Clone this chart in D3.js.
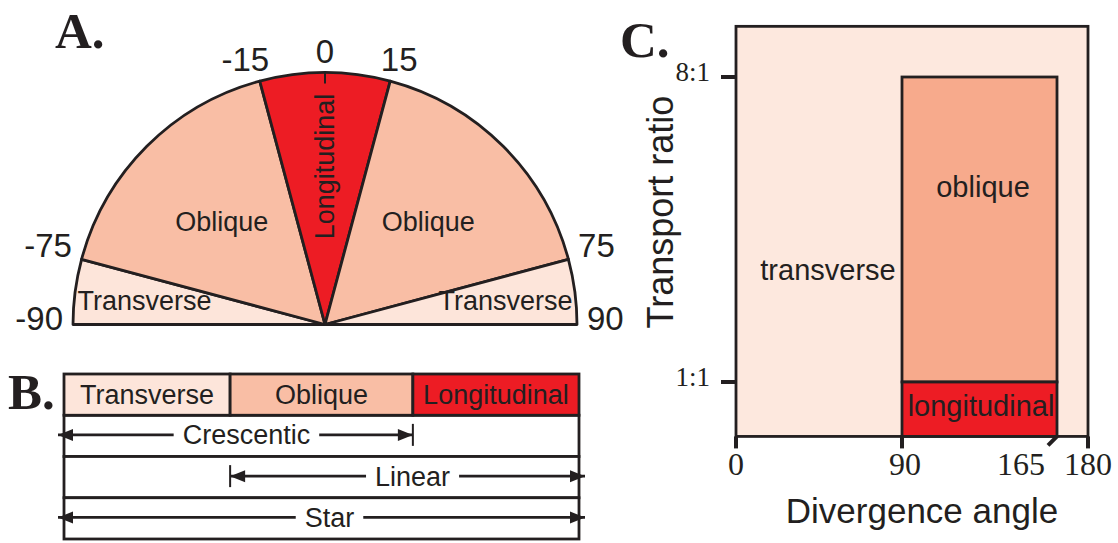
<!DOCTYPE html>
<html>
<head>
<meta charset="utf-8">
<script src="https://d3js.org/d3.v7.min.js"></script>
<style>
  body { margin: 0; background: #fff; }
  text { fill: #231f20; }
  .sans { font-family: "Liberation Sans", Arial, sans-serif; }
  .serif { font-family: "Liberation Serif", "Times New Roman", serif; }
</style>
</head>
<body>
<div id="chart"></div>
<script>
// Panel A: divergence angle classes (degrees)
var aEdges = [-90, -75, -15, 15, 75, 90];
var aClasses = ["Transverse", "Oblique", "Longitudinal", "Oblique", "Transverse"];
var aTicks = [-90, -75, -15, 0, 15, 75, 90];

// Panel B: classes and dune types
var bColumns = ["Transverse", "Oblique", "Longitudinal"];
var bEdges = [0, 1, 2.1, 3.1];
var bTypes = ["Crescentic", "Linear", "Star"];
var bFrom = [0, 1, 0];
var bTo = [2.1, 3.1, 3.1];

// Panel C: divergence angle vs transport ratio
var cXTicks = [0, 90, 165, 180];
var cYTicks = [1, 8];
var cYTickLabels = ["1:1", "8:1"];
var cRegions = ["transverse", "oblique", "longitudinal"];
var cRegionX = [[0, 180], [90, 165], [90, 165]];
var cRegionY = [[0.69, 11.3], [1, 8], [0.69, 1]];

var ink = "#231f20";
var fillAB = { Transverse: "#fde5da", Oblique: "#f9bea5", Longitudinal: "#ed1c24" };
var fillC = { transverse: "#fde8de", oblique: "#f7aa8c", longitudinal: "#ed1c24" };

var svg = d3.select("#chart")
    .append("svg")
    .attr("width", 1118)
    .attr("height", 543);

// ---------------- Panel A ----------------
var cx = 325, cy = 324.5, radius = 252;
var angle = d3.scaleLinear().domain([-90, 90]).range([-Math.PI / 2, Math.PI / 2]);
var arc = d3.arc().innerRadius(0).outerRadius(radius);

var gA = svg.append("g").attr("transform", `translate(${cx},${cy})`);

var sectors = aClasses.map(function (name, i) {
    return { name: name, start: aEdges[i], end: aEdges[i + 1] };
});

gA.selectAll("path.sector")
    .data(sectors)
    .enter()
    .append("path")
    .attr("class", "sector")
    .attr("d", function (d) {
        return arc({ startAngle: angle(d.start), endAngle: angle(d.end) });
    })
    .attr("fill", function (d) { return fillAB[d.name]; })
    .attr("stroke", ink)
    .attr("stroke-width", 2.8)
    .attr("stroke-linejoin", "round");

// small tick at 0
gA.append("line")
    .attr("x1", 0).attr("x2", 0)
    .attr("y1", -radius).attr("y2", -radius + 11)
    .attr("stroke", ink)
    .attr("stroke-width", 2);

// angle labels
gA.selectAll("text.tick")
    .data(aTicks)
    .enter()
    .append("text")
    .attr("class", "sans")
    .attr("font-size", 33)
    .attr("text-anchor", function (d) { return d < 0 ? "end" : d > 0 ? "start" : "middle"; })
    .attr("x", function (d) {
        var shift = Math.abs(d) === 15 ? Math.sign(d) * 12 : 0;
        return (radius + 10) * Math.sin(angle(d)) - shift;
    })
    .attr("y", function (d) {
        return -(radius + 10) * Math.cos(angle(d)) + (Math.abs(d) === 90 ? 5 : 0);
    })
    .text(function (d) { return d; });

// sector labels
gA.selectAll("text.sectorLabel")
    .data(sectors)
    .enter()
    .append("text")
    .attr("class", "sans")
    .attr("font-size", 27)
    .attr("text-anchor", "middle")
    .attr("dy", "0.35em")
    .attr("transform", function (d) {
        var mid = (d.start + d.end) / 2;
        var r = d.name === "Transverse" ? 182 : d.name === "Oblique" ? 146 : 158;
        var x = r * Math.sin(angle(mid));
        var y = -r * Math.cos(angle(mid));
        if (d.name === "Longitudinal") return `translate(${x},${y}) rotate(-90)`;
        return `translate(${x},${y})`;
    })
    .text(function (d) { return d.name; });

svg.append("text")
    .attr("class", "serif")
    .attr("font-size", 51)
    .attr("font-weight", "bold")
    .attr("x", 55)
    .attr("y", 48)
    .text("A.");

// ---------------- Panel B ----------------
var xB = d3.scaleLinear().domain([0, 3.1]).range([64, 579]);
var yB = d3.scaleBand().domain(["classes"].concat(bTypes)).range([374, 539]);

var gB = svg.append("g");

// row frames
gB.selectAll("rect.row")
    .data(bTypes)
    .enter()
    .append("rect")
    .attr("x", xB(0))
    .attr("y", function (d) { return yB(d); })
    .attr("width", xB(3.1) - xB(0))
    .attr("height", yB.bandwidth())
    .attr("fill", "#fff")
    .attr("stroke", ink)
    .attr("stroke-width", 2.8);

gB.selectAll("rect.col")
    .data(bColumns)
    .enter()
    .append("rect")
    .attr("x", function (d, i) { return xB(bEdges[i]); })
    .attr("y", yB("classes"))
    .attr("width", function (d, i) { return xB(bEdges[i + 1]) - xB(bEdges[i]); })
    .attr("height", yB.bandwidth())
    .attr("fill", function (d) { return fillAB[d]; })
    .attr("stroke", ink)
    .attr("stroke-width", 2.8);

gB.selectAll("text.col")
    .data(bColumns)
    .enter()
    .append("text")
    .attr("class", "sans")
    .attr("font-size", 27)
    .attr("text-anchor", "middle")
    .attr("x", function (d, i) { return (xB(bEdges[i]) + xB(bEdges[i + 1])) / 2; })
    .attr("y", yB("classes") + yB.bandwidth() / 2)
    .attr("dy", "0.35em")
    .text(function (d) { return d; });

function arrowHead(g, x, y, dir) {
    g.append("path")
        .attr("d", `M${x},${y}L${x - dir * 15},${y - 6}L${x - dir * 15},${y + 6}Z`)
        .attr("fill", ink);
}

bTypes.forEach(function (name, i) {
    var y = yB(name) + yB.bandwidth() / 2 - 1;
    var x1 = xB(bFrom[i]);
    var x2 = xB(bTo[i]);
    var left = bFrom[i] === 0 ? x1 - 6 : x1;
    var right = bTo[i] === 3.1 ? x2 + 6 : x2;

    gB.append("line")
        .attr("x1", left).attr("x2", right)
        .attr("y1", y).attr("y2", y)
        .attr("stroke", ink)
        .attr("stroke-width", 2.8);
    arrowHead(gB, left, y, -1);
    arrowHead(gB, right, y, 1);

    if (bFrom[i] !== 0) {
        gB.append("line").attr("x1", x1).attr("x2", x1)
            .attr("y1", y - 11).attr("y2", y + 11)
            .attr("stroke", ink).attr("stroke-width", 2);
    }
    if (bTo[i] !== 3.1) {
        gB.append("line").attr("x1", x2).attr("x2", x2)
            .attr("y1", y - 11).attr("y2", y + 11)
            .attr("stroke", ink).attr("stroke-width", 2);
    }

    var label = gB.append("text")
        .attr("class", "sans")
        .attr("font-size", 27)
        .attr("text-anchor", "middle")
        .attr("x", (x1 + x2) / 2 + 8)
        .attr("y", y)
        .attr("dy", "0.35em")
        .text(name);
    var bb = label.node().getBBox();
    gB.insert("rect", function () { return label.node(); })
        .attr("x", bb.x - 9)
        .attr("y", y - 3)
        .attr("width", bb.width + 18)
        .attr("height", 6)
        .attr("fill", "#fff");
});

svg.append("text")
    .attr("class", "serif")
    .attr("font-size", 51)
    .attr("font-weight", "bold")
    .attr("x", 8)
    .attr("y", 409)
    .text("B.");

// ---------------- Panel C ----------------
var xC = d3.scaleLinear().domain([0, 90, 180]).range([736, 902, 1088]);
var yC = d3.scaleLog().domain([1, 8]).range([382, 77]);

var gC = svg.append("g");

gC.selectAll("rect.region")
    .data(cRegions)
    .enter()
    .append("rect")
    .attr("x", function (d, i) { return xC(cRegionX[i][0]); })
    .attr("y", function (d, i) { return yC(cRegionY[i][1]); })
    .attr("width", function (d, i) { return xC(cRegionX[i][1]) - xC(cRegionX[i][0]); })
    .attr("height", function (d, i) { return yC(cRegionY[i][0]) - yC(cRegionY[i][1]); })
    .attr("fill", function (d) { return fillC[d]; })
    .attr("stroke", ink)
    .attr("stroke-width", 2.8);

var cBottom = yC(cRegionY[0][0]);
var cLeft = xC(0);

// y ticks
gC.selectAll("line.ytick")
    .data(cYTicks)
    .enter()
    .append("line")
    .attr("x1", cLeft - 15).attr("x2", cLeft)
    .attr("y1", function (d) { return yC(d); })
    .attr("y2", function (d) { return yC(d); })
    .attr("stroke", ink)
    .attr("stroke-width", 4);

gC.selectAll("text.ytick")
    .data(cYTicks)
    .enter()
    .append("text")
    .attr("class", "serif")
    .attr("font-size", 27)
    .attr("text-anchor", "end")
    .attr("x", cLeft - 26)
    .attr("y", function (d) { return yC(d) + 4; })
    .text(function (d, i) { return cYTickLabels[i]; });

// x ticks (165 is drawn slanted)
gC.selectAll("line.xtick")
    .data(cXTicks)
    .enter()
    .append("line")
    .attr("x1", function (d) { return xC(d); })
    .attr("x2", function (d) { return d === 165 ? xC(d) - 9 : xC(d); })
    .attr("y1", cBottom)
    .attr("y2", function (d) { return d === 165 ? cBottom + 9 : cBottom + 12; })
    .attr("stroke", ink)
    .attr("stroke-width", 4);

gC.selectAll("text.xtick")
    .data(cXTicks)
    .enter()
    .append("text")
    .attr("class", "serif")
    .attr("font-size", 32)
    .attr("text-anchor", "middle")
    .attr("x", function (d) { return d === 165 ? xC(d) - 36 : d === 90 ? xC(d) + 3 : xC(d); })
    .attr("y", cBottom + 39)
    .text(function (d) { return d; });

// region labels
var cLabelPos = {
    transverse: [828, 280],
    oblique: [983, 197],
    longitudinal: [981, 416]
};
gC.selectAll("text.region")
    .data(cRegions)
    .enter()
    .append("text")
    .attr("class", "sans")
    .attr("font-size", 29)
    .attr("text-anchor", "middle")
    .attr("x", function (d) { return cLabelPos[d][0]; })
    .attr("y", function (d) { return cLabelPos[d][1]; })
    .text(function (d) { return d; });

// axis titles
gC.append("text")
    .attr("class", "sans")
    .attr("font-size", 35)
    .attr("text-anchor", "middle")
    .attr("x", 922)
    .attr("y", 523)
    .text("Divergence angle");

gC.append("text")
    .attr("class", "sans")
    .attr("font-size", 36)
    .attr("text-anchor", "middle")
    .attr("transform", "translate(673,212) rotate(-90)")
    .text("Transport ratio");

svg.append("text")
    .attr("class", "serif")
    .attr("font-size", 51)
    .attr("font-weight", "bold")
    .attr("x", 620)
    .attr("y", 57)
    .text("C.");
</script>
</body>
</html>
